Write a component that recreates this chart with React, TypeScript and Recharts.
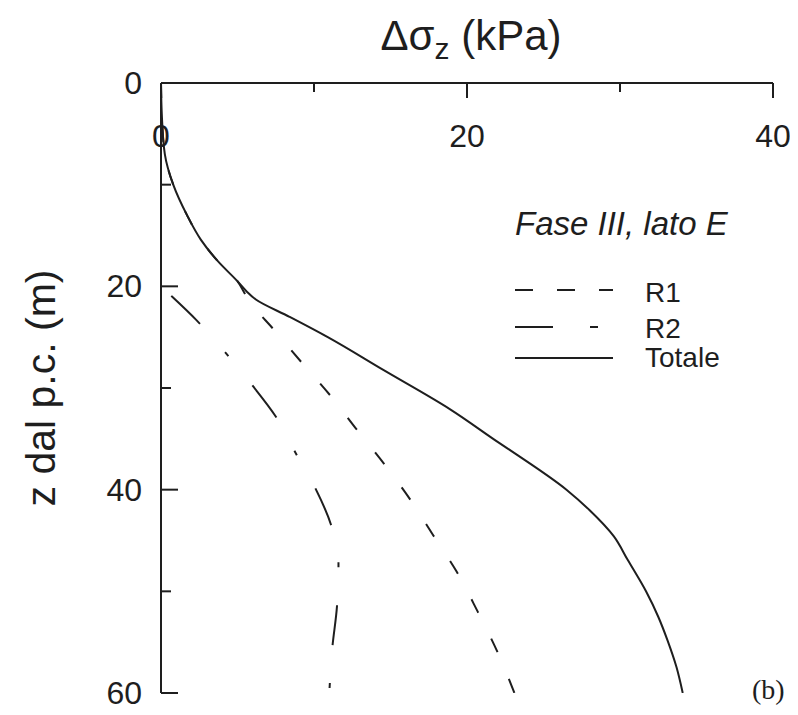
import React from "react";
import { LineChart, Line, XAxis, YAxis, Legend, Label } from "recharts";

// depth z (m) and stress increment (kPa)
const depthTotale = [0, 3, 7, 10, 13, 15.4, 17.5, 19.5, 20.5, 21.3, 23, 25, 28.2, 32.1, 35.4, 36.6, 40, 42, 44.6, 46.9, 50, 52.5, 54.8, 57.5, 60];
const sigmaTotale = [0, 0.05, 0.25, 0.8, 1.7, 2.6, 3.7, 5.0, 5.6, 6.2, 8.4, 10.9, 14.5, 18.9, 22.1, 23.3, 26.5, 28.0, 29.6, 30.5, 31.7, 32.5, 33.1, 33.7, 34.1];

const depthR1 = [0, 3, 7, 10, 13, 15.4, 17.5, 19.5, 20.5, 21.5, 24.3, 27.5, 30.8, 34.1, 37.5, 41, 44.5, 48, 52, 56, 60];
const sigmaR1 = [0, 0.05, 0.25, 0.8, 1.7, 2.6, 3.7, 5.0, 5.4, 5.8, 7.4, 9.2, 11.1, 12.8, 14.6, 16.3, 17.8, 19.3, 20.7, 22.0, 23.1];

const depthR2 = [20, 20.7, 23.3, 26.5, 29.8, 32.8, 36.4, 39.9, 43.4, 47.3, 51.5, 55.5, 60];
const sigmaR2 = [0, 0.5, 2.3, 4.2, 6.0, 7.5, 8.8, 10.1, 11.1, 11.6, 11.5, 11.2, 11.0];

const xTicks = [0, 10, 20, 30, 40];
const yTicks = [0, 10, 20, 30, 40, 50, 60];
const majorStep = 20;

const INK = "#1e1e1e";
const FONT = '"Liberation Sans", Arial, sans-serif';

const toRows = (z: number[], x: number[]) => z.map((d, i) => ({ z: d, x: x[i] }));

const XTick = ({ x, y, payload }: any) => {
  const v = payload.value;
  const major = v % majorStep === 0;
  return (
    <g>
      {v !== 0 && (
        <line x1={x} y1={y} x2={x} y2={y + (major ? 15 : 9)} stroke={INK} strokeWidth={2} />
      )}
      {major && (
        <text x={x} y={y + 64} textAnchor="middle" fontSize={32} fontFamily={FONT} fill={INK}>
          {v}
        </text>
      )}
    </g>
  );
};

const YTick = ({ x, y, payload }: any) => {
  const v = payload.value;
  const major = v % majorStep === 0;
  return (
    <g>
      {v !== 0 && (
        <line x1={x} y1={y} x2={x + (major ? 17 : 10)} y2={y} stroke={INK} strokeWidth={2} />
      )}
      {major && (
        <text x={x - 19} y={y + 11} textAnchor="end" fontSize={32} fontFamily={FONT} fill={INK}>
          {v}
        </text>
      )}
    </g>
  );
};

const XTitle = ({ viewBox }: any) => (
  <text
    x={viewBox.x + viewBox.width / 2 + 4}
    y={viewBox.y - 13}
    textAnchor="middle"
    fontSize={42}
    fontFamily={FONT}
    fill={INK}
  >
    Δσ
    <tspan fontSize={30} dy={9}>z</tspan>
    <tspan dy={-9}> (kPa)</tspan>
  </text>
);

const YTitle = ({ viewBox }: any) => {
  const cx = viewBox.x - 80;
  const cy = viewBox.y + viewBox.height / 2;
  return (
    <text
      x={cx}
      y={cy}
      transform={`rotate(-90, ${cx}, ${cy})`}
      textAnchor="middle"
      dominantBaseline="central"
      fontSize={41}
      fontFamily={FONT}
      fill={INK}
    >
      z dal p.c. (m)
    </text>
  );
};

const renderLegend = () => (
  <svg width={240} height={180} style={{ display: "block" }}>
    <text x={10} y={35} fontSize={33} fontStyle="italic" fontFamily={FONT} fill={INK}>
      Fase III, lato E
    </text>
    <line x1={10} y1={90} x2={108} y2={90} stroke={INK} strokeWidth={2} strokeDasharray="18 24" />
    <text x={140} y={102} fontSize={28} fontFamily={FONT} fill={INK}>R1</text>
    <line x1={10} y1={127} x2={108} y2={127} stroke={INK} strokeWidth={2} strokeDasharray="38 37 8 40" />
    <text x={140} y={138} fontSize={28} fontFamily={FONT} fill={INK}>R2</text>
    <line x1={10} y1={158} x2={108} y2={158} stroke={INK} strokeWidth={2} />
    <text x={140} y={167} fontSize={28} fontFamily={FONT} fill={INK}>Totale</text>
  </svg>
);

const App = () => {
  return (
    <div style={{ position: "relative", width: 790, height: 707, background: "#fff" }}>
      <LineChart
        width={790}
        height={707}
        layout="vertical"
        margin={{ top: 55, right: 25, bottom: 22, left: 113 }}
      >
        <XAxis
          type="number"
          orientation="top"
          domain={[0, 40]}
          ticks={xTicks}
          interval={0}
          height={20}
          allowDataOverflow
          tick={<XTick />}
          tickLine={false}
          tickSize={0}
          tickMargin={0}
          axisLine={{ stroke: INK, strokeWidth: 2 }}
        >
          <Label content={XTitle} />
        </XAxis>
        <YAxis
          type="number"
          dataKey="z"
          domain={[0, 60]}
          ticks={yTicks}
          interval={0}
          width={40}
          allowDataOverflow
          tick={<YTick />}
          tickLine={false}
          tickSize={0}
          tickMargin={0}
          axisLine={{ stroke: INK, strokeWidth: 2 }}
        >
          <Label content={YTitle} />
        </YAxis>
        <Legend
          layout="vertical"
          align="center"
          verticalAlign="middle"
          content={renderLegend}
          wrapperStyle={{ left: 497, top: 192, width: 240, height: 180 }}
        />
        <Line
          data={toRows(depthR1, sigmaR1)}
          dataKey="x"
          name="R1"
          type="monotone"
          stroke={INK}
          strokeWidth={2}
          strokeDasharray="15 29"
          dot={false}
          activeDot={false}
          isAnimationActive={false}
        />
        <Line
          data={toRows(depthR2, sigmaR2)}
          dataKey="x"
          name="R2"
          type="monotone"
          stroke={INK}
          strokeWidth={2}
          strokeDasharray="40 38 5 38"
          strokeDashoffset={-14}
          dot={false}
          activeDot={false}
          isAnimationActive={false}
        />
        <Line
          data={toRows(depthTotale, sigmaTotale)}
          dataKey="x"
          name="Totale"
          type="monotone"
          stroke={INK}
          strokeWidth={2}
          dot={false}
          activeDot={false}
          isAnimationActive={false}
        />
      </LineChart>
      <span
        style={{
          position: "absolute",
          left: 744,
          top: 666,
          fontFamily: '"Liberation Serif", serif',
          fontSize: 28,
          color: INK,
        }}
      >
        (b)
      </span>
    </div>
  );
};

export default App;
